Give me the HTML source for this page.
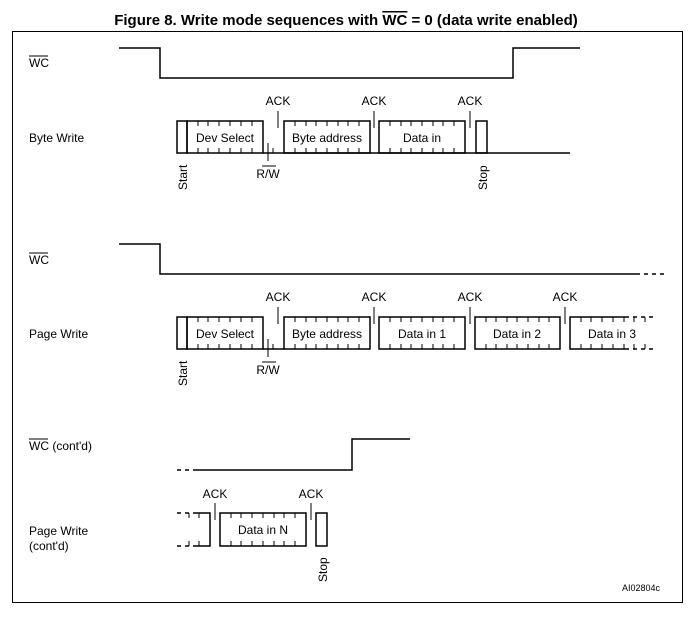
<!DOCTYPE html>
<html><head><meta charset="utf-8"><style>
body{margin:0;background:#fff;}
svg{display:block;font-family:"Liberation Sans",Arial,sans-serif;}
</style></head><body>
<svg width="692" height="629" viewBox="0 0 692 629" xmlns="http://www.w3.org/2000/svg">
<text x="346" y="25" text-anchor="middle" font-size="15" font-weight="bold">Figure 8. Write mode sequences with <tspan text-decoration="overline">WC</tspan> = 0 (data write enabled)</text>
<rect x="12.5" y="31.5" width="670" height="571" fill="none" stroke="#000" stroke-width="1"/>
<g font-size="12">
<text x="29" y="67">WC</text><line x1="29" y1="56" x2="48" y2="56" stroke="#000"/>
<text x="29" y="142">Byte Write</text>
<text x="29" y="264">WC</text><line x1="29" y1="253" x2="48" y2="253" stroke="#000"/>
<text x="29" y="338">Page Write</text>
<text x="29" y="450">WC (cont'd)</text><line x1="29" y1="439" x2="48" y2="439" stroke="#000"/>
<text x="29" y="535">Page Write</text>
<text x="29" y="550">(cont'd)</text>
</g>
<g fill="none" stroke="#000" stroke-width="1.5">
<polyline points="119,48 160,48 160,78 513,78 513,48 580,48"/>
<polyline points="119,244 160,244 160,274 636,274"/>
<line x1="636" y1="274" x2="666" y2="274" stroke-dasharray="4,4"/>
<line x1="177" y1="470" x2="193" y2="470" stroke-dasharray="4,4"/>
<polyline points="193,470 352,470 352,439 410,439"/>
</g>
<g fill="none" stroke="#000" stroke-width="1.5">
<rect x="177" y="121" width="10" height="32"/>
<rect x="187" y="121" width="76" height="32"/>
<rect x="284" y="121" width="86" height="32"/>
<rect x="379" y="121" width="86" height="32"/>
<rect x="476" y="121" width="11" height="32"/>
<line x1="263" y1="153" x2="570" y2="153"/>
</g>
<g stroke="#000" stroke-width="1">
<line x1="278" y1="111" x2="278" y2="128"/>
<line x1="374" y1="111" x2="374" y2="128"/>
<line x1="470" y1="111" x2="470" y2="128"/>
<line x1="268" y1="143" x2="268" y2="161"/>
</g>
<g font-size="12" text-anchor="middle">
<text x="225" y="142">Dev Select</text>
<text x="327" y="142">Byte address</text>
<text x="422" y="142">Data in</text>
<text x="278" y="105">ACK</text><text x="374" y="105">ACK</text><text x="470" y="105">ACK</text>
<text x="268" y="178">R/W</text>
<text x="278" y="301">ACK</text><text x="374" y="301">ACK</text><text x="470" y="301">ACK</text><text x="565" y="301">ACK</text>
<text x="268" y="374">R/W</text>
<text x="225" y="338">Dev Select</text>
<text x="327" y="338">Byte address</text>
<text x="422" y="338">Data in 1</text>
<text x="517" y="338">Data in 2</text>
<text x="612" y="338">Data in 3</text>
<text x="215" y="498">ACK</text><text x="311" y="498">ACK</text>
<text x="263" y="534">Data in N</text>
</g>
<line x1="262" y1="166" x2="276" y2="166" stroke="#000"/>
<line x1="262" y1="362" x2="276" y2="362" stroke="#000"/>
<g font-size="12">
<text transform="translate(187,190) rotate(-90)">Start</text>
<text transform="translate(487,190) rotate(-90)">Stop</text>
<text transform="translate(187,386) rotate(-90)">Start</text>
<text transform="translate(327,582) rotate(-90)">Stop</text>
</g>
<g fill="none" stroke="#000" stroke-width="1.5">
<rect x="177" y="317" width="10" height="32"/>
<rect x="187" y="317" width="76" height="32"/>
<rect x="284" y="317" width="86" height="32"/>
<rect x="379" y="317" width="86" height="32"/>
<rect x="475" y="317" width="85" height="32"/>
<polyline points="625,317 570,317 570,349 625,349"/>
<line x1="263" y1="349" x2="284" y2="349"/>
<line x1="625" y1="317" x2="656" y2="317" stroke-dasharray="4,4"/>
<line x1="625" y1="349" x2="656" y2="349" stroke-dasharray="4,4"/>
<line x1="177" y1="513" x2="193" y2="513" stroke-dasharray="4,4"/>
<line x1="177" y1="546" x2="193" y2="546" stroke-dasharray="4,4"/>
<polyline points="193,513 210,513 210,546 193,546"/>
<rect x="220" y="513" width="86" height="33"/>
<rect x="316" y="513" width="11" height="33"/>
</g>
<g stroke="#000" stroke-width="1">
<line x1="278" y1="307" x2="278" y2="324"/>
<line x1="374" y1="307" x2="374" y2="324"/>
<line x1="470" y1="307" x2="470" y2="324"/>
<line x1="565" y1="307" x2="565" y2="324"/>
<line x1="268" y1="339" x2="268" y2="357"/>
<line x1="215" y1="503" x2="215" y2="520"/>
<line x1="311" y1="503" x2="311" y2="520"/>
</g>
<g stroke="#000" stroke-width="1">
<path d="M198,121v5M208,121v5M219,121v5M230,121v5M241,121v5M252,121v5M198,153v-5M208,153v-5M219,153v-5M230,153v-5M241,153v-5M252,153v-5M273,153v-5
M295,121v5M306,121v5M316,121v5M327,121v5M338,121v5M348,121v5M359,121v5M295,153v-5M306,153v-5M316,153v-5M327,153v-5M338,153v-5M348,153v-5M359,153v-5
M390,121v5M401,121v5M411,121v5M422,121v5M433,121v5M443,121v5M454,121v5M390,153v-5M401,153v-5M411,153v-5M422,153v-5M433,153v-5M443,153v-5M454,153v-5"/>
<path d="M198,317v5M208,317v5M219,317v5M230,317v5M241,317v5M252,317v5M198,349v-5M208,349v-5M219,349v-5M230,349v-5M241,349v-5M252,349v-5M273,349v-5
M295,317v5M306,317v5M316,317v5M327,317v5M338,317v5M348,317v5M359,317v5M295,349v-5M306,349v-5M316,349v-5M327,349v-5M338,349v-5M348,349v-5M359,349v-5
M390,317v5M401,317v5M411,317v5M422,317v5M433,317v5M443,317v5M454,317v5M390,349v-5M401,349v-5M411,349v-5M422,349v-5M433,349v-5M443,349v-5M454,349v-5
M486,317v5M496,317v5M507,317v5M517,317v5M528,317v5M539,317v5M549,317v5M486,349v-5M496,349v-5M507,349v-5M517,349v-5M528,349v-5M539,349v-5M549,349v-5
M581,317v5M591,317v5M602,317v5M613,317v5M624,317v5M634,317v5M645,317v5M581,349v-5M591,349v-5M602,349v-5M613,349v-5M624,349v-5M634,349v-5M645,349v-5
M189,513v5M199,513v5M189,546v-5M199,546v-5
M231,513v5M241,513v5M252,513v5M263,513v5M274,513v5M284,513v5M295,513v5M231,546v-5M241,546v-5M252,546v-5M263,546v-5M274,546v-5M284,546v-5M295,546v-5"/>
</g>
<text x="660" y="591" font-size="9" text-anchor="end">AI02804c</text>
</svg>
</body></html>
